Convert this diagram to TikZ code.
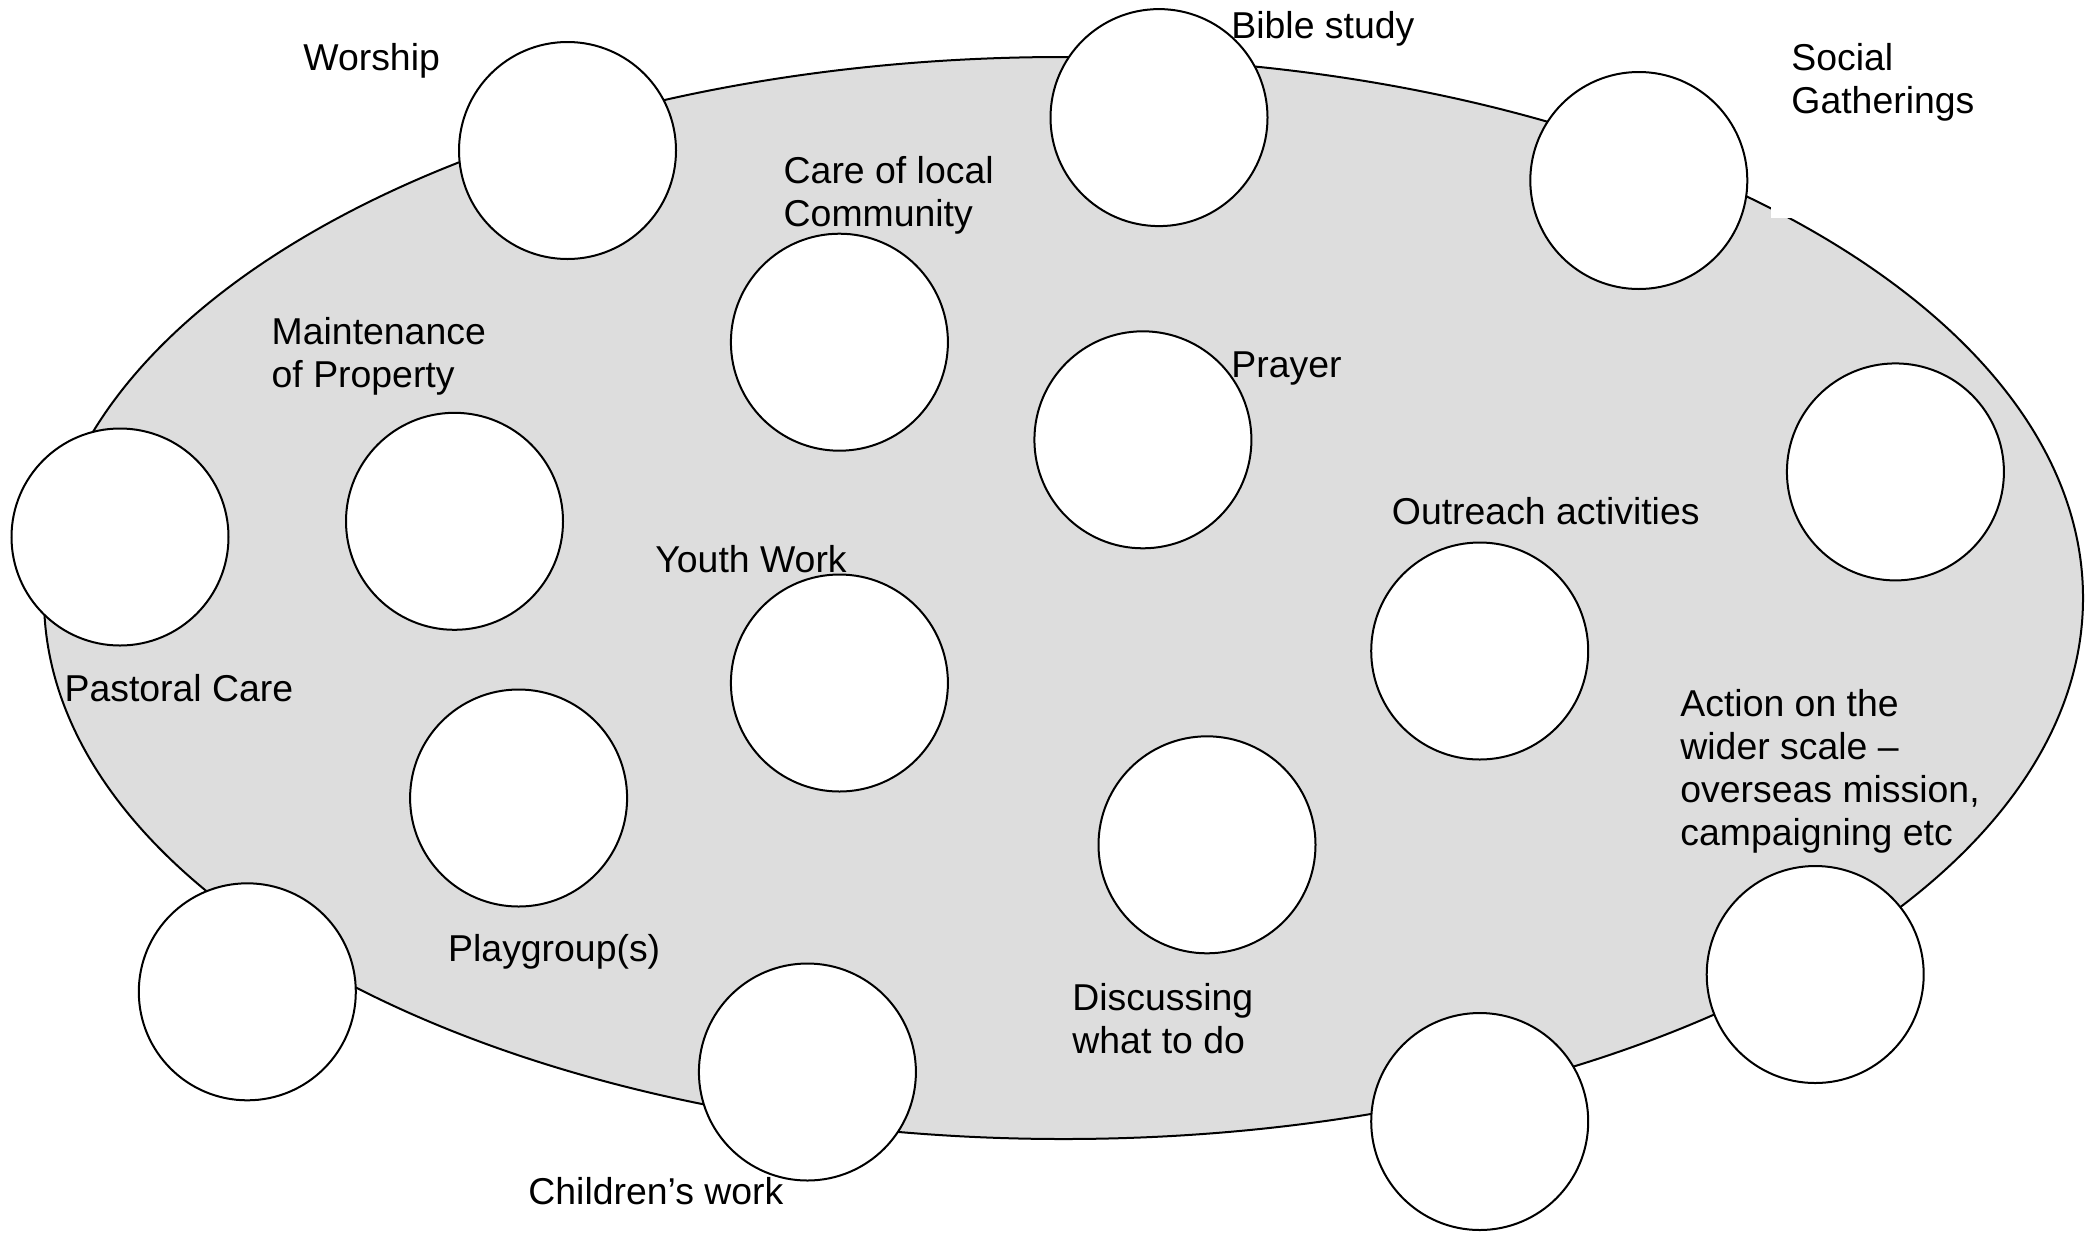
\documentclass[tikz,border=0pt]{standalone}
\usepackage{fontspec}
\setmainfont{Liberation Sans}
\definecolor{ellgray}{RGB}{221,221,221}
\begin{document}
\begin{tikzpicture}[x=0.5pt,y=-0.5pt,
  blob/.style={circle,draw=black,fill=white,line width=1pt,minimum size=217pt*0.5,inner sep=0pt},
  lbl/.style={anchor=base west,inner sep=0pt,align=left,font=\fontsize{18.7pt}{21.5pt}\selectfont}]
\useasboundingbox (0,0) rectangle (2096,1232);
\draw[fill=ellgray,line width=1pt] (1063.5,598) ellipse [x radius=1019.5, y radius=541];
\node[blob] (c1) at (567.5,150.5) {};
\node[blob] (c2) at (1159,117.6) {};
\node[blob] (c3) at (1638.8,180.5) {};
\node[blob] (c4) at (839.4,342.2) {};
\node[blob] (c5) at (1142.9,439.8) {};
\node[blob] (c6) at (1895.4,471.9) {};
\node[blob] (c7) at (454.5,521.3) {};
\node[blob] (c8) at (120,537) {};
\node[blob] (c9) at (839.4,683) {};
\node[blob] (c10) at (1479.7,651) {};
\node[blob] (c11) at (518.6,798) {};
\node[blob] (c12) at (1207,844.8) {};
\node[blob] (c13) at (1815.2,974.5) {};
\node[blob] (c14) at (247.3,991.8) {};
\node[blob] (c15) at (807.4,1072) {};
\node[blob] (c16) at (1479.7,1121.5) {};
\fill[white] (1771,190) rectangle (1792,218);
\node[lbl] (l1) at (303,70) {Worship};
\node[lbl] (l2) at (1231,38.8) {Bible study};
\node[lbl] (l3) at (1791,113.8) {Social\\Gatherings};
\node[lbl] (l4) at (783.3,226.1) {Care of local\\Community};
\node[lbl] (l5) at (271.3,387.9) {Maintenance\\of Property};
\node[lbl] (l6) at (1231,377) {Prayer};
\node[lbl] (l7) at (1391.5,524) {Outreach activities};
\node[lbl] (l8) at (655,572) {Youth Work};
\node[lbl] (l9) at (64.2,701.8) {Pastoral Care};
\node[lbl] (l10) at (1680,845) {Action on the\\wider scale --\\overseas mission,\\campaigning etc};
\node[lbl] (l11) at (447.8,961) {Playgroup(s)};
\node[lbl] (l12) at (1072,1053.5) {Discussing\\what to do};
\node[lbl] (l13) at (528,1204.4) {Children’s work};
\end{tikzpicture}
\end{document}
